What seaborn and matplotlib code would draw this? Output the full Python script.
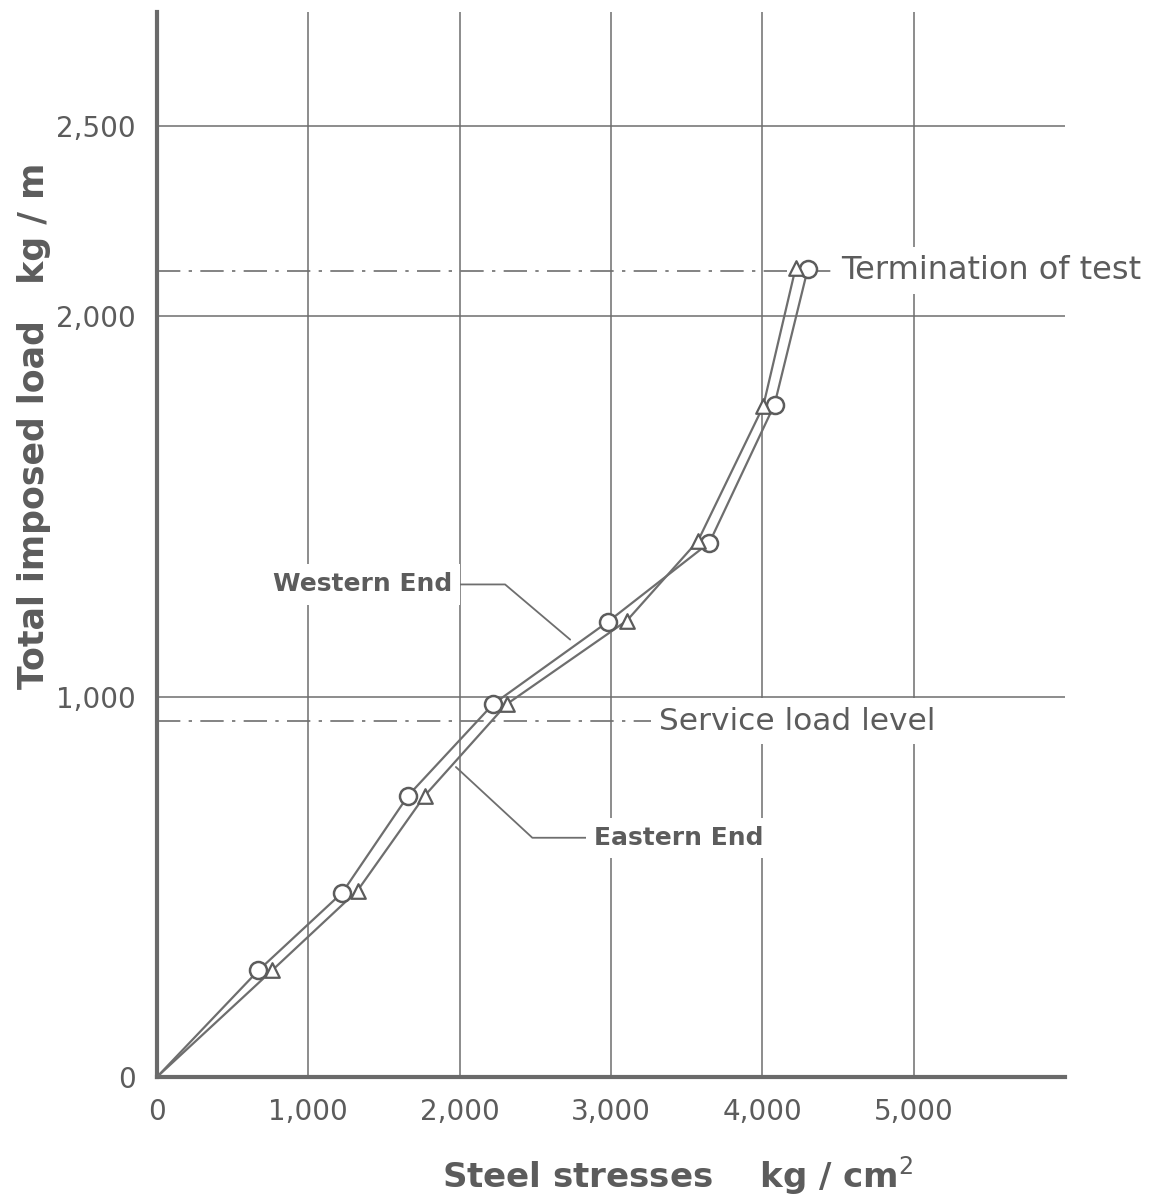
import numpy as np
import pandas as pd
import matplotlib
matplotlib.use("Agg")
import matplotlib.pyplot as plt
import seaborn as sns

# Readings (steel stress kg/cm2 vs imposed load kg/m)
western_stress = [0, 670, 1225, 1660, 2220, 2980, 3650, 4080, 4300]
western_load = [0, 280, 485, 740, 980, 1197, 1405, 1768, 2125]
eastern_stress = [0, 760, 1325, 1770, 2310, 3105, 3575, 4005, 4220]
eastern_load = [0, 280, 490, 740, 980, 1200, 1410, 1763, 2128]

termination_load = 2120
service_load = 935

x_ticks = [0, 1000, 2000, 3000, 4000, 5000]
y_ticks = [0, 1000, 2000, 2500]

ink = "#5c5c5c"
line_col = "#6e6e6e"

sns.set_theme(style="white")
plt.rcParams["font.family"] = ["DejaVu Sans"]

fig = plt.figure(figsize=(11.49, 12.02), dpi=100)
ax = fig.add_axes([0.1366, 0.104, 0.7904, 0.886])

west = pd.DataFrame({"stress": western_stress, "load": western_load})
east = pd.DataFrame({"stress": eastern_stress, "load": eastern_load})

# curves
sns.lineplot(data=west, x="stress", y="load", ax=ax, color=line_col, lw=1.6,
             sort=False, zorder=4)
sns.lineplot(data=east, x="stress", y="load", ax=ax, color=line_col, lw=1.6,
             sort=False, zorder=4)
# hollow markers (not at the origin)
sns.scatterplot(data=west.iloc[1:], x="stress", y="load", ax=ax, marker="o",
                s=150, facecolor="white", edgecolor=ink, linewidth=1.8, zorder=5)
sns.scatterplot(data=east.iloc[1:], x="stress", y="load", ax=ax, marker="^",
                s=110, facecolor="white", edgecolor=ink, linewidth=1.6, zorder=5)

# dash-dot reference levels
dashdot = (0, (14, 5, 2, 5))
ax.hlines(termination_load, 0, 4500, color=line_col, lw=1.2, linestyle=dashdot, zorder=2)
ax.hlines(service_load, 0, 3300, color=line_col, lw=1.2, linestyle=dashdot, zorder=2)

box = dict(facecolor="white", edgecolor="none", pad=6)
ax.text(4520, termination_load, "Termination of test", fontsize=23, color=ink,
        va="center", ha="left", bbox=box, clip_on=False, zorder=6)
ax.text(3320, service_load, "Service load level", fontsize=22.5, color=ink,
        va="center", ha="left", bbox=box, zorder=6)

# leader labels
ax.text(1950, 1295, "Western End", fontsize=18, color=ink, fontweight="bold",
        va="center", ha="right", bbox=box, zorder=6)
ax.plot([1960, 2300, 2730], [1295, 1295, 1150], color=line_col, lw=1.3, zorder=3)
ax.text(2890, 629, "Eastern End", fontsize=18, color=ink, fontweight="bold",
        va="center", ha="left", bbox=box, zorder=6)
ax.plot([2880, 2480, 1975], [629, 629, 815], color=line_col, lw=1.3, zorder=3)

# axes
ax.set_xlim(0, 6000)
ax.set_ylim(0, 2800)
ax.set_xticks(x_ticks)
ax.set_yticks(y_ticks)
ax.set_xticklabels([f"{v:,}" for v in x_ticks])
ax.set_yticklabels([f"{v:,}" for v in y_ticks])
ax.grid(True, color=line_col, lw=1.1, zorder=1)
ax.set_axisbelow(True)
for side in ["top", "right"]:
    ax.spines[side].set_visible(False)
for side in ["left", "bottom"]:
    ax.spines[side].set_color("#6a6a6a")
    ax.spines[side].set_linewidth(3)
ax.tick_params(axis="both", direction="out", length=10, width=1.2, color=line_col,
               labelsize=20, labelcolor=ink, pad=5)

ax.set_xlabel("")
ax.set_ylabel("")
fig.text(0.59, 0.004, "Steel stresses    kg / cm$^2$", fontsize=24.5, color=ink,
         fontweight="bold", ha="center", va="bottom")
fig.text(0.03, 0.646, "Total imposed load   kg / m", fontsize=25, color=ink,
         fontweight="bold", rotation=90, ha="center", va="center")

fig.savefig("out.png", dpi=100)
